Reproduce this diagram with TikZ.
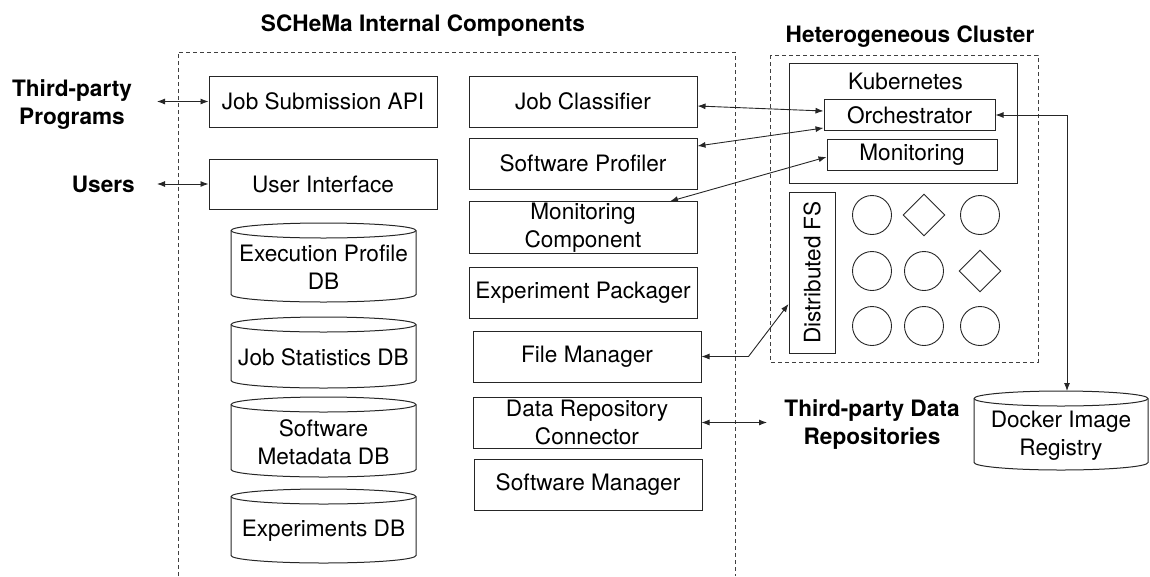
\documentclass[tikz,border=0pt]{standalone}
\usepackage{fontspec}
\setmainfont{TeX Gyre Heros}
\usetikzlibrary{arrows.meta,shapes.geometric}

% database drum: name, centre x, half width, top y, bottom y, text
\newcommand\dbdrum[6]{%
  \draw[drum] (#2-#3,#4+7.5) -- (#2-#3,#5-7.5)
    arc[start angle=180,end angle=360,x radius=#3pt,y radius=7.5pt]
    -- (#2+#3,#4+7.5)
    arc[start angle=0,end angle=180,x radius=#3pt,y radius=7.5pt] -- cycle;
  \draw[drum] (#2-#3,#4+7.5)
    arc[start angle=180,end angle=360,x radius=#3pt,y radius=7.5pt];
  \node[align=center, inner sep=0pt] (#1) at (#2,{(#4+#5)/2+5}) {#6};
}

\begin{document}
\begin{tikzpicture}[x=1pt,y=-1pt,
  every node/.style={font=\fontsize{22.6}{28}\selectfont},
  box/.style={draw=black!85, line width=1pt, minimum width=228pt,
    minimum height=51pt, inner sep=1pt, align=center},
  inbox/.style={draw=black!85, line width=1pt, inner sep=0pt},
  drum/.style={draw=black!85, line width=1pt},
  frame/.style={draw=black!75, line width=0.9pt, dash pattern=on 4pt off 3pt},
  link/.style={draw=black!85, line width=0.9pt,
    {Latex[length=8pt,width=6pt]}-{Latex[length=8pt,width=6pt]}},
  heading/.style={font=\fontsize{22.6}{28}\selectfont\bfseries,
    align=center, inner sep=0pt},
  hostc/.style={circle, draw=black!85, line width=0.9pt, minimum size=39pt, inner sep=0pt},
  hostd/.style={diamond, draw=black!85, line width=0.9pt, minimum width=42pt,
    minimum height=42pt, inner sep=0pt},
]
\useasboundingbox (0,0) rectangle (1150,576);

% ---- group frames and headings
\draw[frame] (178,576) -- (178,52) -- (735,52) -- (735,576);
\draw[frame] (770,55) rectangle (1038,362);
\node[heading] (hschema) at (423,26) {SCHeMa Internal Components};
\node[heading] (hcluster) at (910,37) {Heterogeneous Cluster};

% ---- front-end components
\node[box] (jsa) at (323,101.5) {Job Submission API};
\node[box, minimum height=50pt] (ui) at (323,184) {User Interface};

% ---- databases
\dbdrum{db1}{323.5}{92.5}{223}{302}{Execution Profile\\DB}
\dbdrum{db2}{323.5}{92.5}{317}{388}{Job Statistics DB}
\dbdrum{db3}{323.5}{92.5}{397}{477}{Software\\Metadata DB}
\dbdrum{db4}{323.5}{92.5}{489}{563}{Experiments DB}

% ---- internal services
\node[box] (jc)  at (583,101.5) {Job Classifier};
\node[box] (sp)  at (583,163.5) {Software Profiler};
\node[box] (mc)  at (583,227.5) {Monitoring\\Component};
\node[box] (ep)  at (583,292.5) {Experiment Packager};
\node[box] (fm)  at (587,356.5) {File Manager};
\node[box] (drc) at (587,422.5) {Data Repository\\Connector};
\node[box] (sm)  at (588,484.5) {Software Manager};

% ---- cluster
\node[inbox, minimum width=228pt, minimum height=120pt] (k8s) at (903,123) {};
\node[inner sep=0pt] (k8stitle) at (905.5,81) {Kubernetes};
\node[inbox, minimum width=171pt, minimum height=31pt] (orch) at (909.5,115) {Orchestrator};
\node[inbox, minimum width=170pt, minimum height=31pt] (mon) at (912,154.5) {Monitoring};
\node[inbox, minimum width=46pt, minimum height=161pt] (dfs) at (812,272.5) {};
\node[rotate=90, inner sep=0pt] (dfstext) at (812,272.5) {Distributed FS};

\node[hostc] (h11) at (872,215) {};
\node[hostd] (h12) at (924,215) {};
\node[hostc] (h13) at (980,215) {};
\node[hostc] (h21) at (872,271) {};
\node[hostc] (h22) at (924,271) {};
\node[hostd] (h23) at (980,271) {};
\node[hostc] (h31) at (872,326) {};
\node[hostc] (h32) at (924,326) {};
\node[hostc] (h33) at (980,326) {};

% ---- image registry
\dbdrum{reg}{1061}{87}{391}{470}{Docker Image\\Registry}
\coordinate (regtop) at (1067,391);

% ---- external actors
\node[heading] (tpp) at (72,105) {Third-party\\Programs};
\node[heading, anchor=east] (users) at (135,184) {Users};
\node[heading] (tpd) at (872,425) {Third-party Data\\Repositories};
\coordinate (tppend) at (157,101.5);
\coordinate (usersend) at (157,184);
\coordinate (tpdend) at (767,422.5);

% ---- connectors
\draw[link] (tppend) -- (jsa.west);
\draw[link] (usersend) -- (ui.west);
\draw[link] ([yshift=-4.5pt]jc.east) -- ([yshift=4pt]orch.west);
\draw[link] ([yshift=17.5pt]sp.east) -- ([yshift=-13pt]orch.west);
\draw[link] ([xshift=87pt]mc.north) -- ([yshift=-2.5pt]mon.west);
\draw[link] (fm.east) -- ++(47,0) -- ([yshift=-31.5pt]dfs.west);
\draw[link] (drc.east) -- (tpdend);
\draw[link] (orch.east) -| (regtop);
\end{tikzpicture}
\end{document}
